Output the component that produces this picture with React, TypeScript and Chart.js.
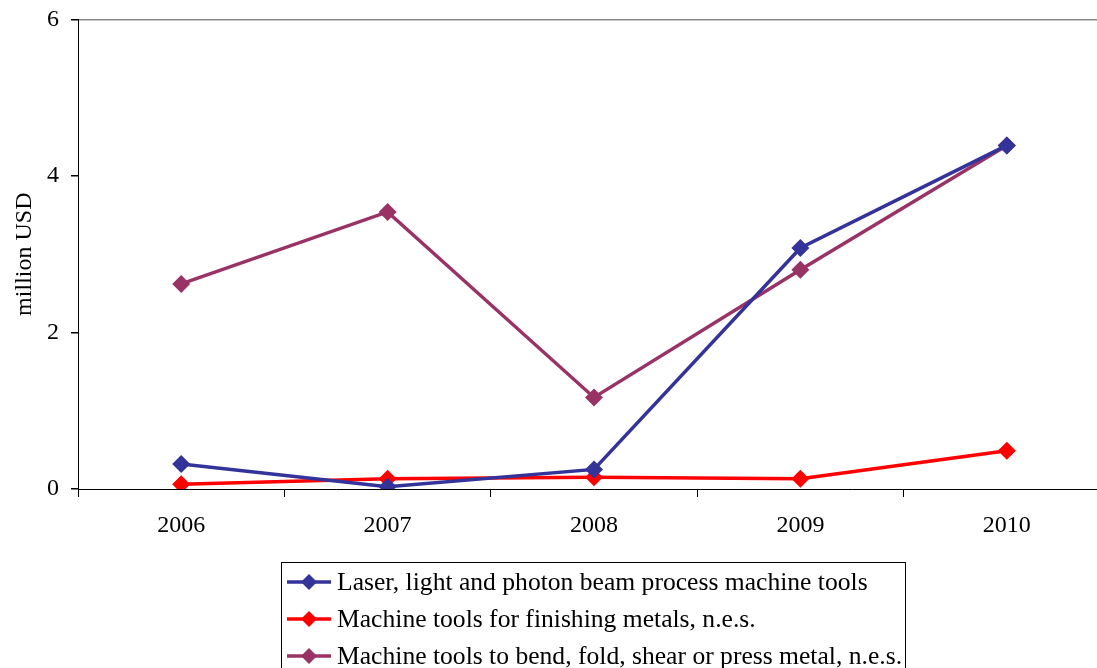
import React, { useEffect, useRef } from "react";
import { Chart, registerables } from "chart.js";

Chart.register(...registerables);

const categories = ["2006", "2007", "2008", "2009", "2010"];
const seriesNames = [
  "Laser, light and photon beam process machine tools",
  "Machine tools for finishing metals, n.e.s.",
  "Machine tools to bend, fold, shear or press metal, n.e.s.",
];
const laserValues = [0.32, 0.03, 0.25, 3.08, 4.39];
const finishingValues = [0.06, 0.13, 0.15, 0.13, 0.49];
const bendValues = [2.62, 3.54, 1.17, 2.8, 4.39];
const seriesColors = ["#333399", "#FF0000", "#993366"];
const yTicks = [0, 2, 4, 6];
const yTitle = "million USD";

const FONT = "'Liberation Serif', 'DejaVu Serif', serif";
const SHIFT = 7;

const legendBox = {
  id: "legendBox",
  afterDraw(chart: any) {
    const ctx = chart.ctx;
    ctx.save();
    ctx.strokeStyle = "#000";
    ctx.lineWidth = 1;
    ctx.strokeRect(281.5, 562.5 + SHIFT, 624, 140);
    chart.data.datasets.forEach((ds: any, i: number) => {
      const y = 582 + 37 * i + SHIFT;
      ctx.strokeStyle = ds.borderColor;
      ctx.lineWidth = 3.5;
      ctx.beginPath();
      ctx.moveTo(287, y);
      ctx.lineTo(331, y);
      ctx.stroke();
      ctx.fillStyle = ds.borderColor;
      ctx.beginPath();
      ctx.moveTo(309, y - 8);
      ctx.lineTo(317, y);
      ctx.lineTo(309, y + 8);
      ctx.lineTo(301, y);
      ctx.closePath();
      ctx.fill();
      ctx.fillStyle = "#000";
      ctx.font = `25.6px ${FONT}`;
      ctx.textBaseline = "middle";
      ctx.textAlign = "left";
      ctx.fillText(ds.label, 337, y + 1);
    });
    ctx.restore();
  },
};

export default function App() {
  const ref = useRef<HTMLCanvasElement>(null);
  useEffect(() => {
    if (!ref.current) return;
    const values = [laserValues, finishingValues, bendValues];
    const chart = new Chart(ref.current, {
      type: "line",
      data: {
        labels: categories,
        datasets: values.map((v, i) => ({
          label: seriesNames[i],
          data: v,
          borderColor: seriesColors[i],
          backgroundColor: seriesColors[i],
          borderWidth: 3.5,
          pointStyle: "rectRot",
          pointRadius: 9,
          pointBorderWidth: 0,
          tension: 0,
        })),
      },
      options: {
        animation: false,
        responsive: false,
        devicePixelRatio: 1,
        layout: { padding: { top: 0, left: 0, right: 0, bottom: 0 } },
        plugins: { legend: { display: false }, tooltip: { enabled: false } },
        scales: {
          x: {
            type: "category",
            offset: true,
            grid: {
              offset: true,
              color: "transparent",
              tickColor: "#000",
              tickLength: 8,
            },
            border: { color: "#000", width: 1 },
            ticks: { color: "#000", font: { family: FONT, size: 24 }, padding: 14 },
            afterFit(scale: any) {
              scale.height = 179;
            },
          },
          y: {
            min: 0,
            max: 6,
            afterBuildTicks(scale: any) {
              scale.ticks = yTicks.map((v) => ({ value: v }));
            },
            grid: {
              color: (c: any) => (c.tick && c.tick.value === 6 ? "#888888" : "transparent"),
              tickColor: "#000",
              tickLength: 7,
              lineWidth: 1.5,
            },
            border: { color: "#000", width: 1 },
            ticks: { color: "#000", font: { family: FONT, size: 24 }, padding: 12 },
            title: {
              display: true,
              text: yTitle,
              color: "#000",
              font: { family: FONT, size: 24 },
              padding: { top: 10, bottom: 0 },
            },
            afterFit(scale: any) {
              scale.width = 78;
            },
          },
        },
      },
      plugins: [legendBox],
    });
    return () => chart.destroy();
  }, []);
  return (
    <div style={{ position: "fixed", left: 0, top: 0, width: 1097, height: 668, overflow: "hidden", background: "#fff" }}>
      <canvas
        ref={ref}
        width={1119}
        height={668 + SHIFT}
        style={{ display: "block", position: "absolute", left: 0, top: -SHIFT }}
      />
    </div>
  );
}
